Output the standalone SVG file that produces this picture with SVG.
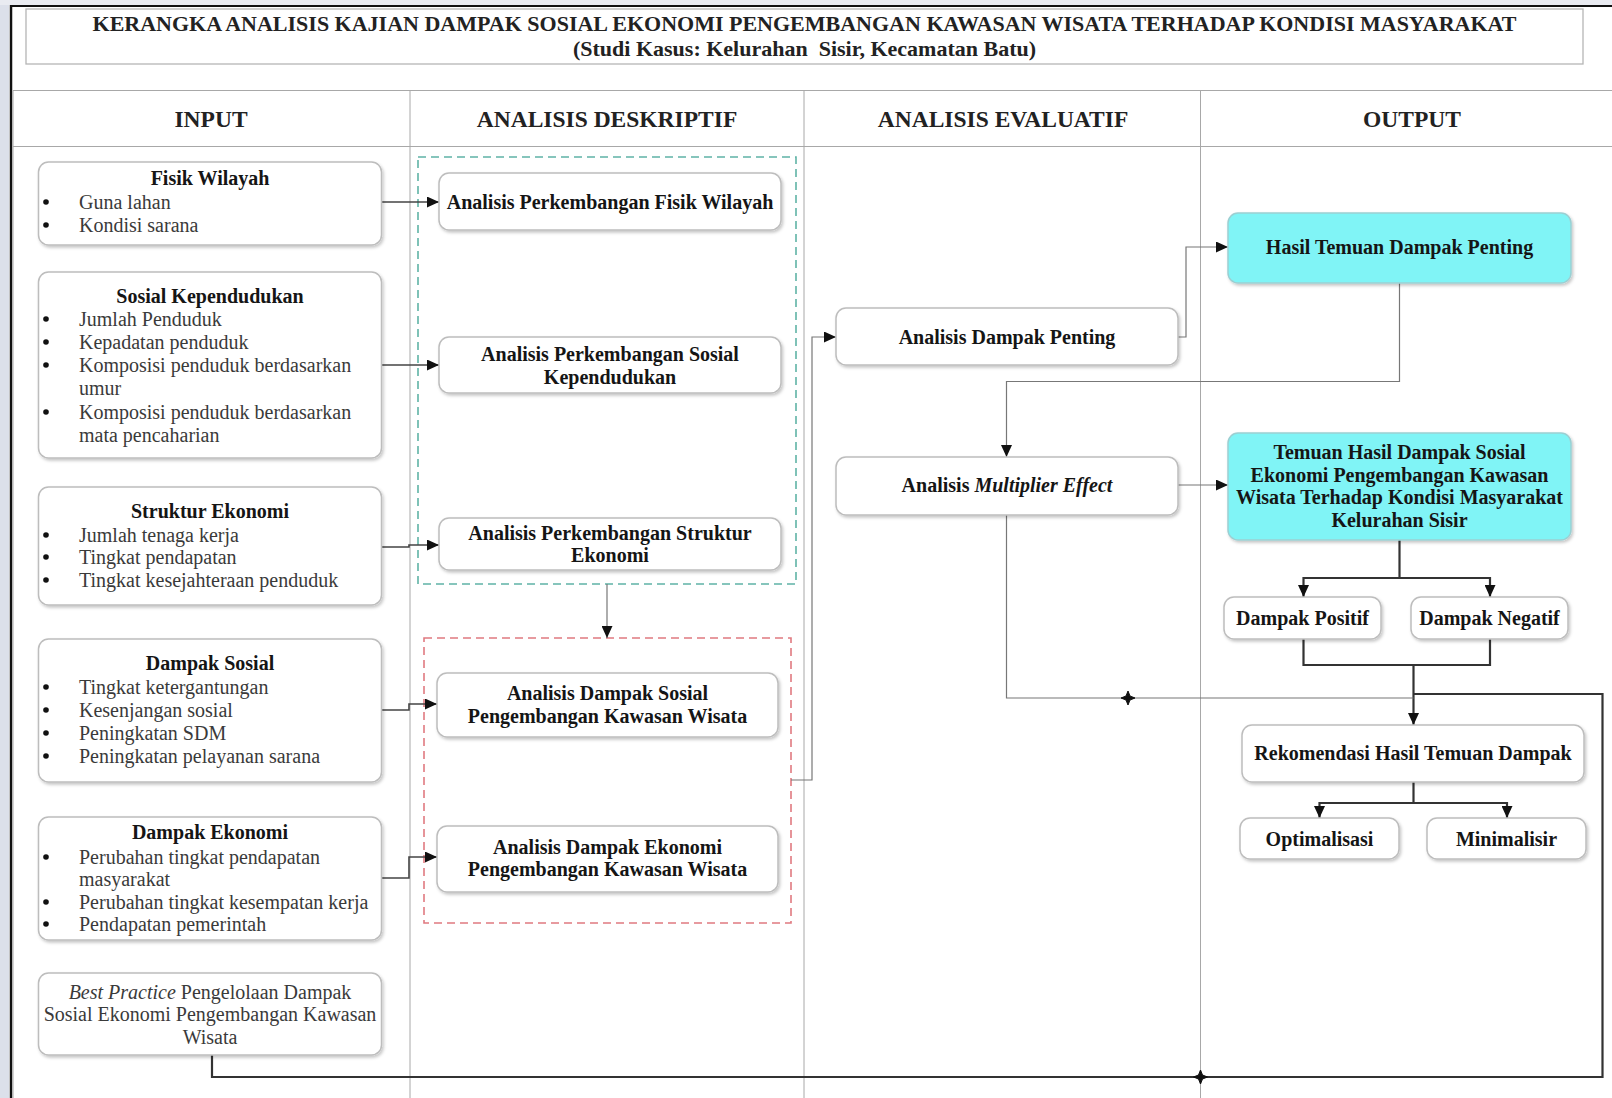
<svg xmlns="http://www.w3.org/2000/svg" width="1612" height="1098" viewBox="0 0 1612 1098">
<style>
.t{font-family:"Liberation Serif","Times New Roman",serif;font-size:20px;fill:#3a3a3a}
.b{font-weight:bold;fill:#151515}
.c{text-anchor:middle}
.h{font-size:23.5px;font-weight:bold;fill:#222}
.ttl{font-size:22px;font-weight:bold;fill:#222}
.box{fill:#fff;stroke:#bdbdbd;stroke-width:1.5;filter:url(#sh)}
.cy{fill:#80f4f6;stroke:#9ccfd2}
.ln{fill:none;stroke:#444;stroke-width:1.6}
.lt{fill:none;stroke:#777;stroke-width:1.2}
.hv{fill:none;stroke:#333;stroke-width:2.2}
.grid{fill:none;stroke:#a8a8a8;stroke-width:1}
.jx{fill:#111;stroke:#111;stroke-width:1}
.dot{fill:#111}
</style>
<defs>
<filter id="sh" x="-10%" y="-10%" width="120%" height="130%">
<feDropShadow dx="1.5" dy="2" stdDeviation="1.5" flood-color="#000" flood-opacity="0.22"/>
</filter>
<marker id="ar" markerUnits="userSpaceOnUse" markerWidth="13" markerHeight="11" refX="12" refY="5.5" orient="auto-start-reverse">
<path d="M0,0 L12,5.5 L0,11 Z" fill="#111"/>
</marker>
</defs>
<rect width="1612" height="1098" fill="#ffffff"/>
<rect x="0" y="0" width="9" height="1098" fill="#dce0ea"/>
<rect x="0" y="0" width="1612" height="5" fill="#e9ebf1"/>
<line x1="11" y1="5" x2="11" y2="1098" stroke="#111" stroke-width="2.5"/>
<line x1="10" y1="6" x2="1612" y2="6" stroke="#111" stroke-width="2.2"/>

<g id="title">
<rect x="26" y="9" width="1557" height="55" fill="#fff" stroke="#b5b5b5" stroke-width="1.3"/>
<text class="t ttl c" x="804.5" y="31">KERANGKA ANALISIS KAJIAN DAMPAK SOSIAL EKONOMI PENGEMBANGAN KAWASAN WISATA TERHADAP KONDISI MASYARAKAT</text>
<text class="t ttl c" x="804.5" y="56" xml:space="preserve">(Studi Kasus: Kelurahan  Sisir, Kecamatan Batu)</text>
</g>

<g id="table">
<line class="grid" x1="13" y1="90.5" x2="1612" y2="90.5" stroke="#b0b0b0" stroke-width="1.5"/>
<line class="grid" x1="13" y1="146.5" x2="1612" y2="146.5" stroke="#b0b0b0" stroke-width="1.5"/>
<line class="grid" x1="13" y1="90.5" x2="13" y2="1098" stroke="#d0d0d0"/>
<line class="grid" x1="410" y1="90.5" x2="410" y2="1098"/>
<line class="grid" x1="804" y1="90.5" x2="804" y2="1098"/>
<line class="grid" x1="1200.5" y1="90.5" x2="1200.5" y2="1098"/>
<text class="t h c" x="211" y="127">INPUT</text>
<text class="t h c" x="607" y="127">ANALISIS DESKRIPTIF</text>
<text class="t h c" x="1003" y="127">ANALISIS EVALUATIF</text>
<text class="t h c" x="1412" y="127">OUTPUT</text>
</g>

<g id="group-deskriptif">
<rect x="418" y="157" width="378" height="427" fill="none" stroke="#5fb3a6" stroke-width="1.6" stroke-dasharray="8,5"/>
</g>
<g id="group-dampak">
<rect x="424" y="638" width="367" height="285" fill="none" stroke="#e07a80" stroke-width="1.6" stroke-dasharray="8,5"/>
</g>

<g id="connectors">
<line class="ln" x1="382" y1="202" x2="439" y2="202" marker-end="url(#ar)"/>
<line class="ln" x1="382" y1="365" x2="439" y2="365" marker-end="url(#ar)"/>
<polyline class="ln" points="382,547 409,547 409,545 439,545" marker-end="url(#ar)"/>
<polyline class="ln" points="382,710 409,710 409,704 437,704" marker-end="url(#ar)"/>
<polyline class="ln" points="382,878 409,878 409,857 437,857" marker-end="url(#ar)"/>
<line class="lt" x1="607" y1="584" x2="607" y2="638" marker-end="url(#ar)"/>
<polyline class="lt" points="791,780 812,780 812,337 836,337" marker-end="url(#ar)"/>
<polyline class="lt" points="1178,337 1186,337 1186,247 1228,247" marker-end="url(#ar)"/>
<polyline class="lt" points="1399.5,283 1399.5,381.5 1006.5,381.5 1006.5,457" marker-end="url(#ar)"/>
<line class="lt" x1="1178" y1="485" x2="1228" y2="485" marker-end="url(#ar)"/>
<line class="hv" x1="1399.5" y1="540" x2="1399.5" y2="578"/>
<polyline class="hv" points="1303.5,597 1303.5,578 1490,578 1490,597" marker-start="url(#ar)" marker-end="url(#ar)"/>
<polyline class="hv" points="1303.5,639 1303.5,665 1490,665 1490,639"/>
<line class="hv" x1="1413.5" y1="665" x2="1413.5" y2="725" marker-end="url(#ar)"/>
<polyline class="lt" points="1006.5,515 1006.5,698 1413.5,698"/>
<polyline class="hv" points="1413.5,694 1602.5,694 1602.5,1077 212,1077 212,1055"/>
<line class="hv" x1="1413.5" y1="782" x2="1413.5" y2="803"/>
<polyline class="hv" points="1319.5,818 1319.5,803 1507,803 1507,818" marker-start="url(#ar)" marker-end="url(#ar)"/>
<path class="jx" d="M1128,691 L1130,696 L1135,698 L1130,700 L1128,705 L1126,700 L1121,698 L1126,696 Z"/>
<path class="jx" d="M1200.5,1070 L1202.5,1075 L1207.5,1077 L1202.5,1079 L1200.5,1084 L1198.5,1079 L1193.5,1077 L1198.5,1075 Z"/>
</g>

<g id="input-fisik">
<rect class="box" x="38.5" y="162" width="343" height="83" rx="10"/>
<text class="t b c" x="210" y="185">Fisik Wilayah</text>
<circle class="dot" cx="46" cy="202" r="2.8"/><text class="t" x="79" y="209">Guna lahan</text>
<circle class="dot" cx="46" cy="225" r="2.8"/><text class="t" x="79" y="232">Kondisi sarana</text>
</g>

<g id="input-sosial">
<rect class="box" x="38.5" y="272" width="343" height="186" rx="10"/>
<text class="t b c" x="210" y="303">Sosial Kependudukan</text>
<circle class="dot" cx="46" cy="319" r="2.8"/><text class="t" x="79" y="326">Jumlah Penduduk</text>
<circle class="dot" cx="46" cy="342" r="2.8"/><text class="t" x="79" y="349">Kepadatan penduduk</text>
<circle class="dot" cx="46" cy="365" r="2.8"/><text class="t" x="79" y="372">Komposisi penduduk berdasarkan</text>
<text class="t" x="79" y="395">umur</text>
<circle class="dot" cx="46" cy="412" r="2.8"/><text class="t" x="79" y="419">Komposisi penduduk berdasarkan</text>
<text class="t" x="79" y="442">mata pencaharian</text>
</g>

<g id="input-struktur">
<rect class="box" x="38.5" y="487" width="343" height="118" rx="10"/>
<text class="t b c" x="210" y="518">Struktur Ekonomi</text>
<circle class="dot" cx="46" cy="535" r="2.8"/><text class="t" x="79" y="542">Jumlah tenaga kerja</text>
<circle class="dot" cx="46" cy="557" r="2.8"/><text class="t" x="79" y="564">Tingkat pendapatan</text>
<circle class="dot" cx="46" cy="580" r="2.8"/><text class="t" x="79" y="587">Tingkat kesejahteraan penduduk</text>
</g>

<g id="input-dampak-sosial">
<rect class="box" x="38.5" y="639" width="343" height="143" rx="10"/>
<text class="t b c" x="210" y="670">Dampak Sosial</text>
<circle class="dot" cx="46" cy="687" r="2.8"/><text class="t" x="79" y="694">Tingkat ketergantungan</text>
<circle class="dot" cx="46" cy="710" r="2.8"/><text class="t" x="79" y="717">Kesenjangan sosial</text>
<circle class="dot" cx="46" cy="733" r="2.8"/><text class="t" x="79" y="740">Peningkatan SDM</text>
<circle class="dot" cx="46" cy="756" r="2.8"/><text class="t" x="79" y="763">Peningkatan pelayanan sarana</text>
</g>

<g id="input-dampak-ekonomi">
<rect class="box" x="38.5" y="817" width="343" height="123" rx="10"/>
<text class="t b c" x="210" y="839">Dampak Ekonomi</text>
<circle class="dot" cx="46" cy="857" r="2.8"/><text class="t" x="79" y="864">Perubahan tingkat pendapatan</text>
<text class="t" x="79" y="886">masyarakat</text>
<circle class="dot" cx="46" cy="902" r="2.8"/><text class="t" x="79" y="909">Perubahan tingkat kesempatan kerja</text>
<circle class="dot" cx="46" cy="924" r="2.8"/><text class="t" x="79" y="931">Pendapatan pemerintah</text>
</g>

<g id="input-best-practice">
<rect class="box" x="38.5" y="973" width="343" height="82" rx="10"/>
<text class="t c" x="210" y="999"><tspan font-style="italic">Best Practice</tspan> Pengelolaan Dampak</text>
<text class="t c" x="210" y="1021">Sosial Ekonomi Pengembangan Kawasan</text>
<text class="t c" x="210" y="1044">Wisata</text>
</g>

<g id="desk-fisik">
<rect class="box" x="439" y="173" width="342" height="57" rx="10"/>
<text class="t b c" x="610" y="209">Analisis Perkembangan Fisik Wilayah</text>
</g>
<g id="desk-sosial">
<rect class="box" x="439" y="337" width="342" height="56" rx="10"/>
<text class="t b c" x="610" y="361">Analisis Perkembangan Sosial</text>
<text class="t b c" x="610" y="384">Kependudukan</text>
</g>
<g id="desk-struktur">
<rect class="box" x="439" y="518" width="342" height="52" rx="10"/>
<text class="t b c" x="610" y="540">Analisis Perkembangan Struktur</text>
<text class="t b c" x="610" y="562">Ekonomi</text>
</g>
<g id="desk-dampak-sosial">
<rect class="box" x="437" y="673" width="341" height="64" rx="10"/>
<text class="t b c" x="607.5" y="700">Analisis Dampak Sosial</text>
<text class="t b c" x="607.5" y="723">Pengembangan Kawasan Wisata</text>
</g>
<g id="desk-dampak-ekonomi">
<rect class="box" x="437" y="826" width="341" height="66" rx="10"/>
<text class="t b c" x="607.5" y="854">Analisis Dampak Ekonomi</text>
<text class="t b c" x="607.5" y="876">Pengembangan Kawasan Wisata</text>
</g>

<g id="eval-dampak-penting">
<rect class="box" x="836" y="308" width="342" height="57" rx="10"/>
<text class="t b c" x="1007" y="343.5">Analisis Dampak Penting</text>
</g>
<g id="eval-multiplier">
<rect class="box" x="836" y="457" width="342" height="58" rx="10"/>
<text class="t b c" x="1007" y="492">Analisis <tspan font-style="italic">Multiplier Effect</tspan></text>
</g>

<g id="out-hasil">
<rect class="box cy" x="1228" y="213" width="343" height="70" rx="10"/>
<text class="t b c" x="1399.5" y="254">Hasil Temuan Dampak Penting</text>
</g>
<g id="out-temuan">
<rect class="box cy" x="1228" y="433" width="343" height="107" rx="10"/>
<text class="t b c" x="1399.5" y="459">Temuan Hasil Dampak Sosial</text>
<text class="t b c" x="1399.5" y="482">Ekonomi Pengembangan Kawasan</text>
<text class="t b c" x="1399.5" y="504">Wisata Terhadap Kondisi Masyarakat</text>
<text class="t b c" x="1399.5" y="527">Kelurahan Sisir</text>
</g>
<g id="out-positif">
<rect class="box" x="1224" y="597" width="157" height="42" rx="10"/>
<text class="t b c" x="1302.5" y="625">Dampak Positif</text>
</g>
<g id="out-negatif">
<rect class="box" x="1411" y="597" width="157" height="42" rx="10"/>
<text class="t b c" x="1489.5" y="625">Dampak Negatif</text>
</g>
<g id="out-rekomendasi">
<rect class="box" x="1242" y="725" width="342" height="57" rx="10"/>
<text class="t b c" x="1413" y="760">Rekomendasi Hasil Temuan Dampak</text>
</g>
<g id="out-optimalisasi">
<rect class="box" x="1240" y="818" width="159" height="41" rx="10"/>
<text class="t b c" x="1319.5" y="846">Optimalisasi</text>
</g>
<g id="out-minimalisir">
<rect class="box" x="1427" y="818" width="159" height="41" rx="10"/>
<text class="t b c" x="1506.5" y="846">Minimalisir</text>
</g>
</svg>
